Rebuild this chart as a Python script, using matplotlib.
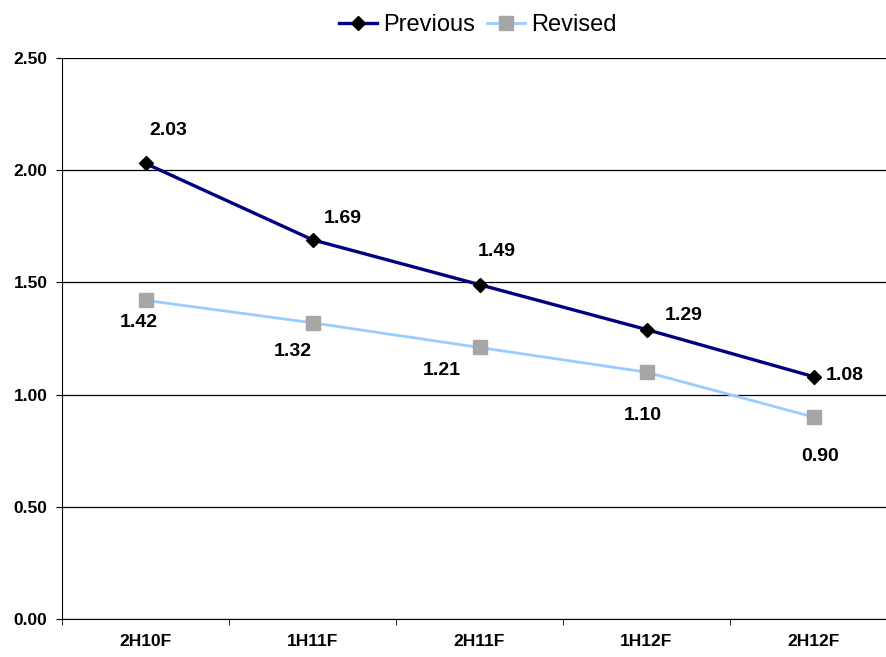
import matplotlib
matplotlib.use("Agg")
import matplotlib.pyplot as plt

categories = ["2H10F", "1H11F", "2H11F", "1H12F", "2H12F"]
previous = [2.03, 1.69, 1.49, 1.29, 1.08]
revised = [1.42, 1.32, 1.21, 1.10, 0.90]
y_ticks = [0.0, 0.5, 1.0, 1.5, 2.0, 2.5]

# data-label offsets in pixels (dx, dy) relative to each marker
prev_offsets = [(23, 33), (30, 21), (17, 33), (37, 14), (31, 1)]
rev_offsets = [(-7, -22), (-20, -29), (-38, -23), (-4, -43), (7, -39)]

plt.rcParams["font.family"] = ["Liberation Sans", "DejaVu Sans"]

W, H = 886, 657
fig = plt.figure(figsize=(W / 100, H / 100), dpi=100)
ax = fig.add_axes([62 / W, 1 - 619 / H, 835 / W, 561 / H])

x = list(range(len(categories)))
ax.plot(x, previous, color="#000080", lw=2.4, marker="D", ms=6.8,
        mfc="black", mec="black", label="Previous", zorder=4)
ax.plot(x, revised, color="#99CCFF", lw=2.0, marker="s", ms=10,
        mfc="#A6A6A6", mec="#A6A6A6", label="Revised", zorder=3)

for xi, v, (dx, dy) in zip(x, previous, prev_offsets):
    ax.annotate(f"{v:.2f}", (xi, v), xytext=(dx, dy), textcoords="offset pixels",
                ha="center", va="center", fontsize=14, fontweight="bold")
for xi, v, (dx, dy) in zip(x, revised, rev_offsets):
    ax.annotate(f"{v:.2f}", (xi, v), xytext=(dx, dy), textcoords="offset pixels",
                ha="center", va="center", fontsize=14, fontweight="bold")

ax.set_xlim(-0.5, len(categories) - 0.5)
ax.set_ylim(0, 2.5)
ax.set_yticks(y_ticks)
ax.set_yticklabels([f"{t:.2f}" for t in y_ticks], fontsize=12.5, fontweight="bold")
ax.set_xticks(x)
ax.set_xticklabels(categories, fontsize=12.5, fontweight="bold")
ax.set_xticks([i + 0.5 for i in range(-1, len(categories))], minor=True)
ax.tick_params(axis="x", which="major", length=0, pad=11)
ax.tick_params(axis="x", which="minor", length=4.5, color="black")
ax.tick_params(axis="y", length=4.5, direction="out", pad=6)
ax.grid(axis="y", color="black", lw=0.9)
for s in ["top", "right"]:
    ax.spines[s].set_visible(False)
ax.spines["left"].set_color("black")
ax.spines["bottom"].set_color("black")

fig.legend(loc="center", bbox_to_anchor=(478 / W, 1 - 25 / H), ncol=2, frameon=False,
           fontsize=17, handlelength=1.6, handletextpad=0.26, columnspacing=0.52,
           borderpad=0.0)

fig.savefig("out.png", dpi=100)
